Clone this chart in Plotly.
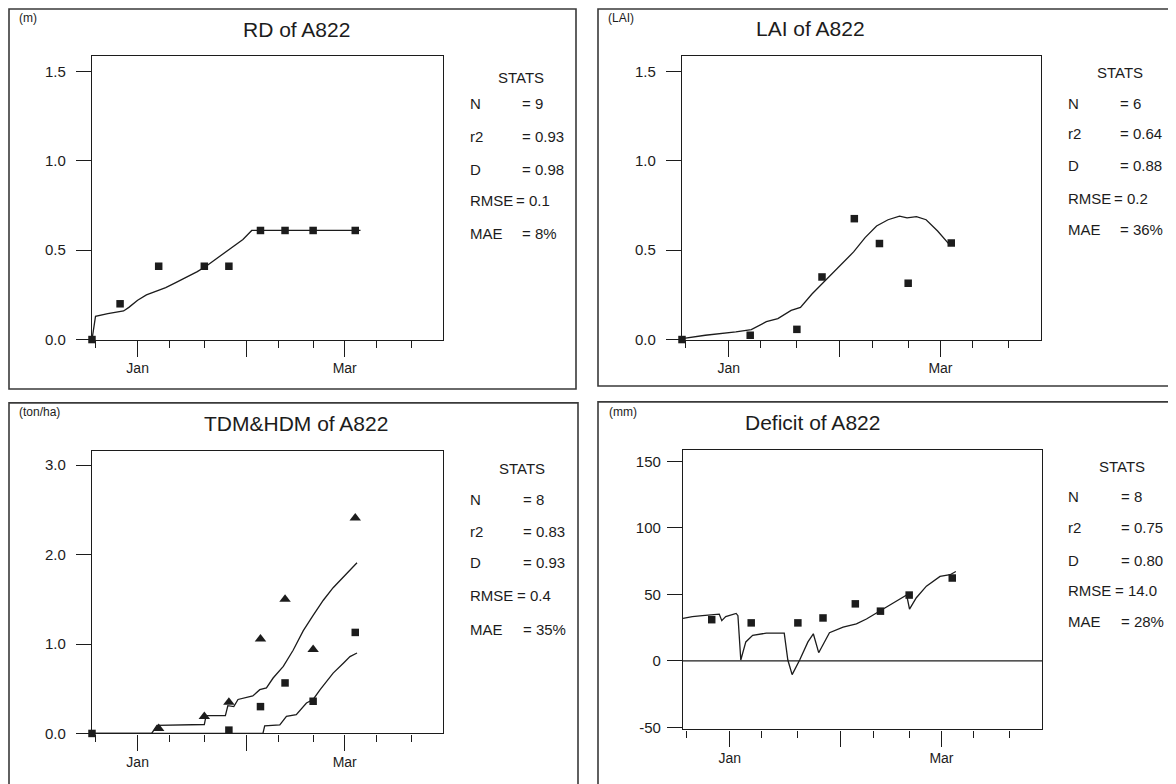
import plotly.graph_objects as go
from datetime import datetime, timedelta

# ---------------- data (x = days after 19 Dec) ----------------
BASE = datetime(2000, 12, 19)

rd_obs_days = [0, 8, 19, 32, 39, 48, 55, 63, 75]
rd_obs = [0.0, 0.20, 0.41, 0.41, 0.41, 0.61, 0.61, 0.61, 0.61]
rd_sim_days = [0, 1, 4.5, 9, 10.5, 13, 15.5, 18, 21, 24, 27, 30, 32.5, 36, 39.5, 43, 45.5, 76.5]
rd_sim = [0.0, 0.13, 0.145, 0.16, 0.18, 0.22, 0.25, 0.27, 0.29, 0.32, 0.35, 0.38, 0.41, 0.46, 0.51, 0.56, 0.61, 0.61]

lai_obs_days = [0, 19, 32, 39, 48, 55, 63, 75]
lai_obs = [0.0, 0.024, 0.057, 0.35, 0.676, 0.537, 0.315, 0.54]
lai_sim_days = [0, 6.5, 15, 19.3, 23.5, 26.7, 30.4, 33, 36.2, 39.4, 43.5, 47.8, 51, 54.2,
                57.4, 60.6, 62.7, 65.3, 68, 71.2, 74.8]
lai_sim = [0.005, 0.024, 0.043, 0.056, 0.1, 0.117, 0.163, 0.18, 0.255, 0.32, 0.40, 0.49, 0.57,
           0.635, 0.67, 0.69, 0.68, 0.687, 0.67, 0.607, 0.524]

tdm_obs_days = [19, 32, 39, 48, 55, 63, 75]
tdm_obs = [0.055, 0.19, 0.35, 1.055, 1.5, 0.94, 2.41]
hdm_obs_days = [0, 39, 48, 55, 63, 75]
hdm_obs = [0.0, 0.037, 0.30, 0.565, 0.36, 1.13]
tdm_sim_days = [0, 17, 18.5, 32, 32.5, 38, 38.7, 40.4, 41.6, 44, 45.8, 47.8, 49.7, 51.6, 54.5,
                57.3, 60.2, 63, 65.9, 68.7, 71.6, 75.5]
tdm_sim = [0, 0, 0.09, 0.1, 0.2, 0.2, 0.31, 0.30, 0.38, 0.40, 0.42, 0.49, 0.51, 0.62, 0.75,
           0.93, 1.15, 1.32, 1.49, 1.63, 1.75, 1.91]
hdm_sim_days = [0, 48.7, 49.2, 53.5, 55.4, 58.2, 61.1, 63, 65, 66.8, 68.7, 71.6, 73.5, 75.5]
hdm_sim = [0, 0, 0.085, 0.096, 0.19, 0.21, 0.34, 0.38, 0.49, 0.58, 0.675, 0.786, 0.86, 0.9]

def_obs_days = [8, 19, 32, 39, 48, 55, 63, 75]
def_obs = [31, 28.6, 28.6, 32.3, 42.9, 37.4, 49.5, 62.3]
def_sim_days = [0, 2.6, 5.4, 9.1, 10.1, 10.8, 11.9, 14.8, 15.3, 16.1, 17.5, 19.4, 23.2, 28.2,
                29.2, 30.4, 32.5, 34.8, 36.3, 37.8, 40.8, 44.6, 48.3, 51.1, 54.9, 58.5, 62.3,
                63.1, 65, 67.8, 71.6, 74.4, 76]
def_sim = [32, 33.3, 34, 34.5, 35.2, 30.3, 33.3, 35.7, 34, 0.7, 14.3, 19.2, 20.9, 20.9, 0.7,
           -10.3, 0.7, 14.3, 20.4, 6.2, 21.2, 25.4, 27.8, 31.5, 37.7, 43.8, 49.5, 38.9, 47.5,
           56.2, 63.5, 64.8, 67.2]

titles = ["RD of A822", "LAI of A822", "TDM&HDM of A822", "Deficit of A822"]
units = ["(m)", "(LAI)", "(ton/ha)", "(mm)"]
stat_labels = ["N", "r2", "D", "RMSE", "MAE"]
stat_values = [
    ["= 9", "= 0.93", "= 0.98", "= 0.1", "= 8%"],
    ["= 6", "= 0.64", "= 0.88", "= 0.2", "= 36%"],
    ["= 8", "= 0.83", "= 0.93", "= 0.4", "= 35%"],
    ["= 8", "= 0.75", "= 0.80", "= 14.0", "= 28%"],
]
y_ticks = [[0.0, 0.5, 1.0, 1.5], [0.0, 0.5, 1.0, 1.5], [0.0, 1.0, 2.0, 3.0], [-50, 0, 50, 100, 150]]
y_ticktext = [["0.0", "0.5", "1.0", "1.5"], ["0.0", "0.5", "1.0", "1.5"],
              ["0.0", "1.0", "2.0", "3.0"], ["-50", "0", "50", "100", "150"]]
y_ranges = [[0, 1.583], [0, 1.583], [0, 3.155], [-51.5, 158.2]]

major_dates = ["2001-01-01", "2001-02-01", "2001-03-01"]
major_text = ["Jan", "", "Mar"]
minor_dates = ["2000-12-20", "2001-01-10", "2001-01-20", "2001-02-10", "2001-02-20",
               "2001-03-10", "2001-03-20"]


def to_dates(days):
    return [BASE + timedelta(days=d) for d in days]


# ---------------- layout geometry (page pixels) ----------------
OFF = 8                      # default page margin of the html body
W, H = 1176 - OFF, 784 - OFF
INK = "#1c1c1c"
FONT = "Liberation Sans, Arial, sans-serif"

# plot boxes: (left, right, top, bottom)
boxes = [(92, 443, 57, 343), (682, 1041, 57, 343), (92, 443, 456, 741), (683, 1042, 455, 737)]
frames = [(9, 576, 9, 393), (598, 1190, 9, 390), (9, 578, 407, 800), (598, 1190, 406, 800)]
title_pos = [(296, 30), (810, 29), (296, 428), (812, 427)]
unit_pos = [(17, 18), (606, 18), (17, 416), (607, 416)]
stats_x = [(468, 520, 521), (1066, 1118, 1120), (468, 521, 522), (1066, 1119, 1122)]
stats_y = [(78, 104, 138, 171, 203, 236), (73, 104, 135, 167, 200, 232),
           (473, 505, 537, 568, 602, 636), (471, 502, 533, 566, 597, 628)]


def px(x):
    return (x - OFF) / W


def py(y):
    return 1 - (y - OFF) / H


fig = go.Figure()

line_style = dict(color=INK, width=1.3)
sq = dict(symbol="square", size=7.5, color=INK)
tri = dict(symbol="triangle-up", size=10, color=INK)

panels = [
    [(rd_sim_days, rd_sim, "lines", None), (rd_obs_days, rd_obs, "markers", sq)],
    [(lai_sim_days, lai_sim, "lines", None), (lai_obs_days, lai_obs, "markers", sq)],
    [(tdm_sim_days, tdm_sim, "lines", None), (hdm_sim_days, hdm_sim, "lines", None),
     (tdm_obs_days, tdm_obs, "markers", tri), (hdm_obs_days, hdm_obs, "markers", sq)],
    [(def_sim_days, def_sim, "lines", None), (def_obs_days, def_obs, "markers", sq)],
]

for i, traces in enumerate(panels):
    xa = "x" if i == 0 else f"x{i+1}"
    ya = "y" if i == 0 else f"y{i+1}"
    for days, vals, mode, mk in traces:
        kw = dict(x=to_dates(days), y=vals, mode=mode, xaxis=xa, yaxis=ya, showlegend=False,
                  hoverinfo="skip")
        if mode == "lines":
            kw["line"] = line_style
        else:
            kw["marker"] = mk
            kw["cliponaxis"] = False
        fig.add_trace(go.Scatter(**kw))

# zero line for Deficit panel
fig.add_trace(go.Scatter(x=[BASE, BASE + timedelta(days=100)], y=[0, 0], mode="lines",
                         xaxis="x4", yaxis="y4", line=dict(color=INK, width=1.2),
                         showlegend=False, hoverinfo="skip"))

layout = dict(width=W, height=H, margin=dict(l=0, r=0, t=0, b=0),
              paper_bgcolor="white", plot_bgcolor="white",
              font=dict(family=FONT, color=INK, size=15), shapes=[], annotations=[])

for i, (l, r, t, b) in enumerate(boxes):
    xk = "xaxis" if i == 0 else f"xaxis{i+1}"
    yk = "yaxis" if i == 0 else f"yaxis{i+1}"
    ya = "y" if i == 0 else f"y{i+1}"
    xa = "x" if i == 0 else f"x{i+1}"
    layout[xk] = dict(domain=[px(l), px(r)], anchor=ya, type="date",
                      range=[BASE, BASE + timedelta(days=100)],
                      tickmode="array", tickvals=major_dates, ticktext=major_text,
                      ticks="outside", ticklen=16, tickwidth=1.3, tickcolor=INK,
                      showline=True, linecolor=INK, linewidth=1.3, mirror=True,
                      showgrid=False, zeroline=False, tickfont=dict(size=14),
                      minor=dict(tickmode="array", tickvals=minor_dates, ticks="outside",
                                 ticklen=7, tickwidth=1.3, tickcolor=INK, showgrid=False))
    layout[yk] = dict(domain=[py(b), py(t)], anchor=xa, range=y_ranges[i],
                      tickmode="array", tickvals=y_ticks[i], ticktext=y_ticktext[i],
                      ticks="outside", ticklen=15, tickwidth=1.3, tickcolor=INK,
                      showline=True, linecolor=INK, linewidth=1.3, mirror=True,
                      showgrid=False, zeroline=False, tickfont=dict(size=15),
                      ticklabelstandoff=7 if i < 3 else 3)

for (x0, x1, y0, y1) in frames:
    layout["shapes"].append(dict(type="rect", xref="paper", yref="paper",
                                 x0=px(x0), x1=px(x1), y0=py(y1), y1=py(y0),
                                 line=dict(color="#3a3a3a", width=1.6)))

for i in range(4):
    tx, ty = title_pos[i]
    layout["annotations"].append(dict(text=titles[i], x=px(tx), y=py(ty), xref="paper",
                                      yref="paper", showarrow=False, xanchor="center",
                                      yanchor="middle", font=dict(size=21)))
    ux, uy = unit_pos[i]
    layout["annotations"].append(dict(text=units[i], x=px(ux), y=py(uy), xref="paper",
                                      yref="paper", showarrow=False, xanchor="left",
                                      yanchor="middle", font=dict(size=12)))
    lx, vx, sx = stats_x[i]
    ys = stats_y[i]
    layout["annotations"].append(dict(text="STATS", x=px(sx), y=py(ys[0]), xref="paper",
                                      yref="paper", showarrow=False, xanchor="center",
                                      yanchor="middle", font=dict(size=15)))
    for j, lab in enumerate(stat_labels):
        layout["annotations"].append(dict(text=lab, x=px(lx), y=py(ys[j + 1]), xref="paper",
                                          yref="paper", showarrow=False, xanchor="left",
                                          yanchor="middle", font=dict(size=15)))
        vxx = vx - 6 if lab == "RMSE" else vx
        layout["annotations"].append(dict(text=stat_values[i][j], x=px(vxx), y=py(ys[j + 1]),
                                          xref="paper", yref="paper", showarrow=False,
                                          xanchor="left", yanchor="middle",
                                          font=dict(size=15)))

fig.update_layout(**layout)
fig.write_html("out.html")
